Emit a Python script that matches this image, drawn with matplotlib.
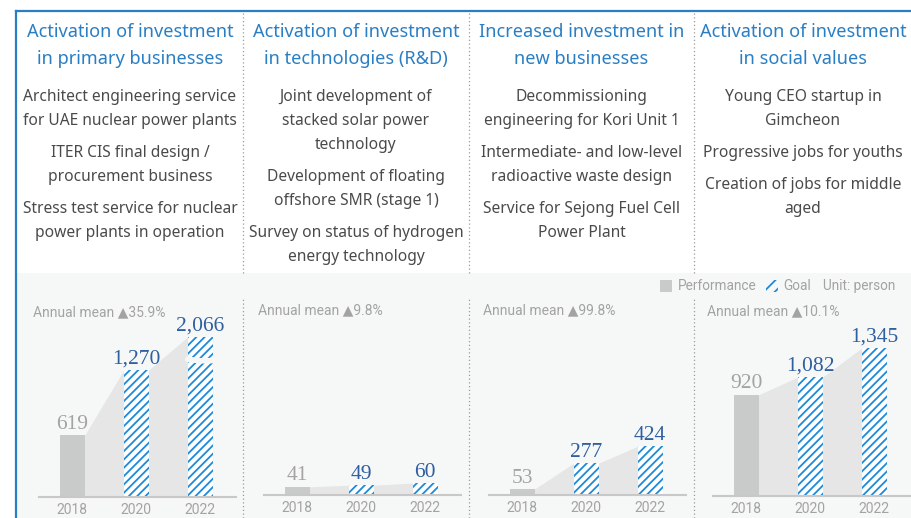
import matplotlib
matplotlib.use("Agg")
import matplotlib.pyplot as plt
import numpy as np
from matplotlib.patches import Rectangle
from matplotlib.lines import Line2D

W, H = 912, 518

# ── data ──────────────────────────────────────────────────────────────
years = ["2018", "2020", "2022"]
perf_2018 = [619, 41, 53, 920]
goal_2020 = [1270, 49, 277, 1082]
goal_2022 = [2066, 60, 424, 1345]
annual_mean = ["35.9%", "9.8%", "99.8%", "10.1%"]

headers = [
    ["Activation of investment", "in primary businesses"],
    ["Activation of investment", "in technologies (R&D)"],
    ["Increased investment in", "new businesses"],
    ["Activation of investment", "in social values"],
]
items = [
    [["Architect engineering service", "for UAE nuclear power plants"],
     ["ITER CIS final design /", "procurement business"],
     ["Stress test service for nuclear", "power plants in operation"]],
    [["Joint development of", "stacked solar power", "technology"],
     ["Development of floating", "offshore SMR (stage 1)"],
     ["Survey on status of hydrogen", "energy technology"]],
    [["Decommissioning", "engineering for Kori Unit 1"],
     ["Intermediate- and low-level", "radioactive waste design"],
     ["Service for Sejong Fuel Cell", "Power Plant"]],
    [["Young CEO startup in", "Gimcheon"],
     ["Progressive jobs for youths"],
     ["Creation of jobs for middle", "aged"]],
]

# ── style ─────────────────────────────────────────────────────────────
BLUE = "#2a7fc4"
HATCH_BLUE = "#1e8ad8"
NUM_BLUE = "#2f5f9f"
PERF_GRAY = "#c9caca"
AREA_GRAY = "#e6e6e6"
BG_GRAY = "#f6f7f7"
TXT = "#4a4a4a"
LIGHT = "#a3a3a3"
SANS = ["Roboto", "DejaVu Sans"]

plt.rcParams["hatch.linewidth"] = 1.3

# panel geometry in pixels
col_edges = [17, 243, 469, 694, 912]
ax_left = [39, 264, 489, 713]
ax_base = [497, 495, 495, 496]
ax_w = 197
ax_h = 197
px_per_unit = [0.100, 0.2, 0.115, 0.110]
BREAK_LO, BREAK_K = 1300, 0.394
BREAK_MARK = 1480


def fx(x):
    return x / W


def fy(y):
    return 1 - y / H


def brk_fwd(v):
    v = np.asarray(v, dtype=float)
    return np.where(v <= BREAK_LO, v, BREAK_LO + (v - BREAK_LO) * BREAK_K)


def brk_inv(u):
    u = np.asarray(u, dtype=float)
    return np.where(u <= BREAK_LO, u, BREAK_LO + (u - BREAK_LO) / BREAK_K)


fig = plt.figure(figsize=(W / 100, H / 100), dpi=100)
fig.patch.set_facecolor("white")

# background boxes and frame
fig.add_artist(Rectangle((fx(17), 0), fx(W - 17), fy(273), transform=fig.transFigure,
                         facecolor=BG_GRAY, edgecolor="none", zorder=0))
fig.add_artist(Line2D([fx(16), fx(16)], [0, fy(11)], color=BLUE, lw=1.6))
fig.add_artist(Line2D([fx(16), 1], [fy(11), fy(11)], color=BLUE, lw=1.6))
for xe in col_edges[1:4]:
    fig.add_artist(Line2D([fx(xe), fx(xe)], [fy(273), fy(13)], color="#9a9a9a",
                          lw=0.9, ls=(0, (1, 2))))
    fig.add_artist(Line2D([fx(xe), fx(xe)], [0, fy(298)], color="#9a9a9a",
                          lw=0.9, ls=(0, (1, 2))))

# top texts
for k in range(4):
    cx = (col_edges[k] + col_edges[k + 1]) / 2
    for i, line in enumerate(headers[k]):
        fig.text(fx(cx), fy(32 + 27 * i), line, ha="center", va="center",
                 fontsize=13.1, color=BLUE, family="Noto Sans")
    y = 97
    for item in items[k]:
        for line in item:
            fig.text(fx(cx), fy(y), line, ha="center", va="center",
                     fontsize=11.2, color=TXT, family="Noto Sans")
            y += 24
        y += 8

# legend
fig.add_artist(Rectangle((fx(660), fy(292)), fx(12), 12 / H, transform=fig.transFigure,
                         facecolor=PERF_GRAY, edgecolor="none"))
fig.add_artist(Rectangle((fx(766), fy(292)), fx(12), 12 / H, transform=fig.transFigure,
                         facecolor="none", edgecolor=HATCH_BLUE, lw=0, hatch="///"))
fig.text(fx(678), fy(286), "Performance", ha="left", va="center", fontsize=9.8,
         color=LIGHT, family=SANS)
fig.text(fx(783), fy(286), "Goal", ha="left", va="center", fontsize=9.8,
         color=LIGHT, family=SANS)
fig.text(fx(823), fy(286), "Unit: person", ha="left", va="center", fontsize=9.8,
         color=LIGHT, family=SANS)

# charts
x = np.arange(3)
bw = 0.39
for k in range(4):
    ax = fig.add_axes([fx(ax_left[k]), fy(ax_base[k]), fx(ax_w), ax_h / H])
    ax.set_facecolor("none")
    top = ax_h / px_per_unit[k]
    if k == 0:
        ax.set_yscale("function", functions=(brk_fwd, brk_inv))
        top = float(brk_inv(top))
    vals = [perf_2018[k], goal_2020[k], goal_2022[k]]
    ax.set_xlim(-0.52, 2.56)
    ax.set_ylim(0, top)

    # shaded trend area behind the bars
    xs = np.repeat(x, 2) + np.tile([-bw / 2, bw / 2], 3)
    ys = np.repeat(vals, 2)
    ax.fill_between(xs, 0, ys, color=AREA_GRAY, lw=0, zorder=1)

    ax.bar(x[0], vals[0], width=bw, color=PERF_GRAY, lw=0, zorder=2)
    ax.bar(x[1:], vals[1:], width=bw, color="white", edgecolor=HATCH_BLUE,
           lw=0, hatch="////", zorder=2)

    if k == 0:
        # axis-break mark across the tallest bar
        ax.plot([x[2] - bw / 2, x[2], x[2] + bw / 2 + 0.1],
                [BREAK_MARK * 1.01, BREAK_MARK * 0.985, BREAK_MARK * 0.99],
                color=BG_GRAY, lw=4, solid_capstyle="round", zorder=3)

    for xi, v, c in zip(x, vals, [LIGHT, NUM_BLUE, NUM_BLUE]):
        ax.annotate(f"{v:,}", (xi, v), xytext=(0, 1), textcoords="offset points",
                    ha="center", va="bottom", fontsize=15.5, color=c,
                    family="Liberation Serif", zorder=4)

    ax.text(-0.03, 0.94, f"Annual mean \u25B2{annual_mean[k]}", transform=ax.transAxes,
            ha="left", va="center", fontsize=10, color=LIGHT, family=SANS)

    ax.set_xticks(x)
    ax.set_xticklabels(years, fontsize=10, color=LIGHT, family="Roboto")
    ax.tick_params(axis="x", length=0, pad=4)
    ax.set_yticks([])
    ax.minorticks_off()
    for side in ["top", "right", "left"]:
        ax.spines[side].set_visible(False)
    ax.spines["bottom"].set_color("#c8c8c8")
    ax.spines["bottom"].set_linewidth(1.5)

fig.savefig("out.png", dpi=100, facecolor="white")
